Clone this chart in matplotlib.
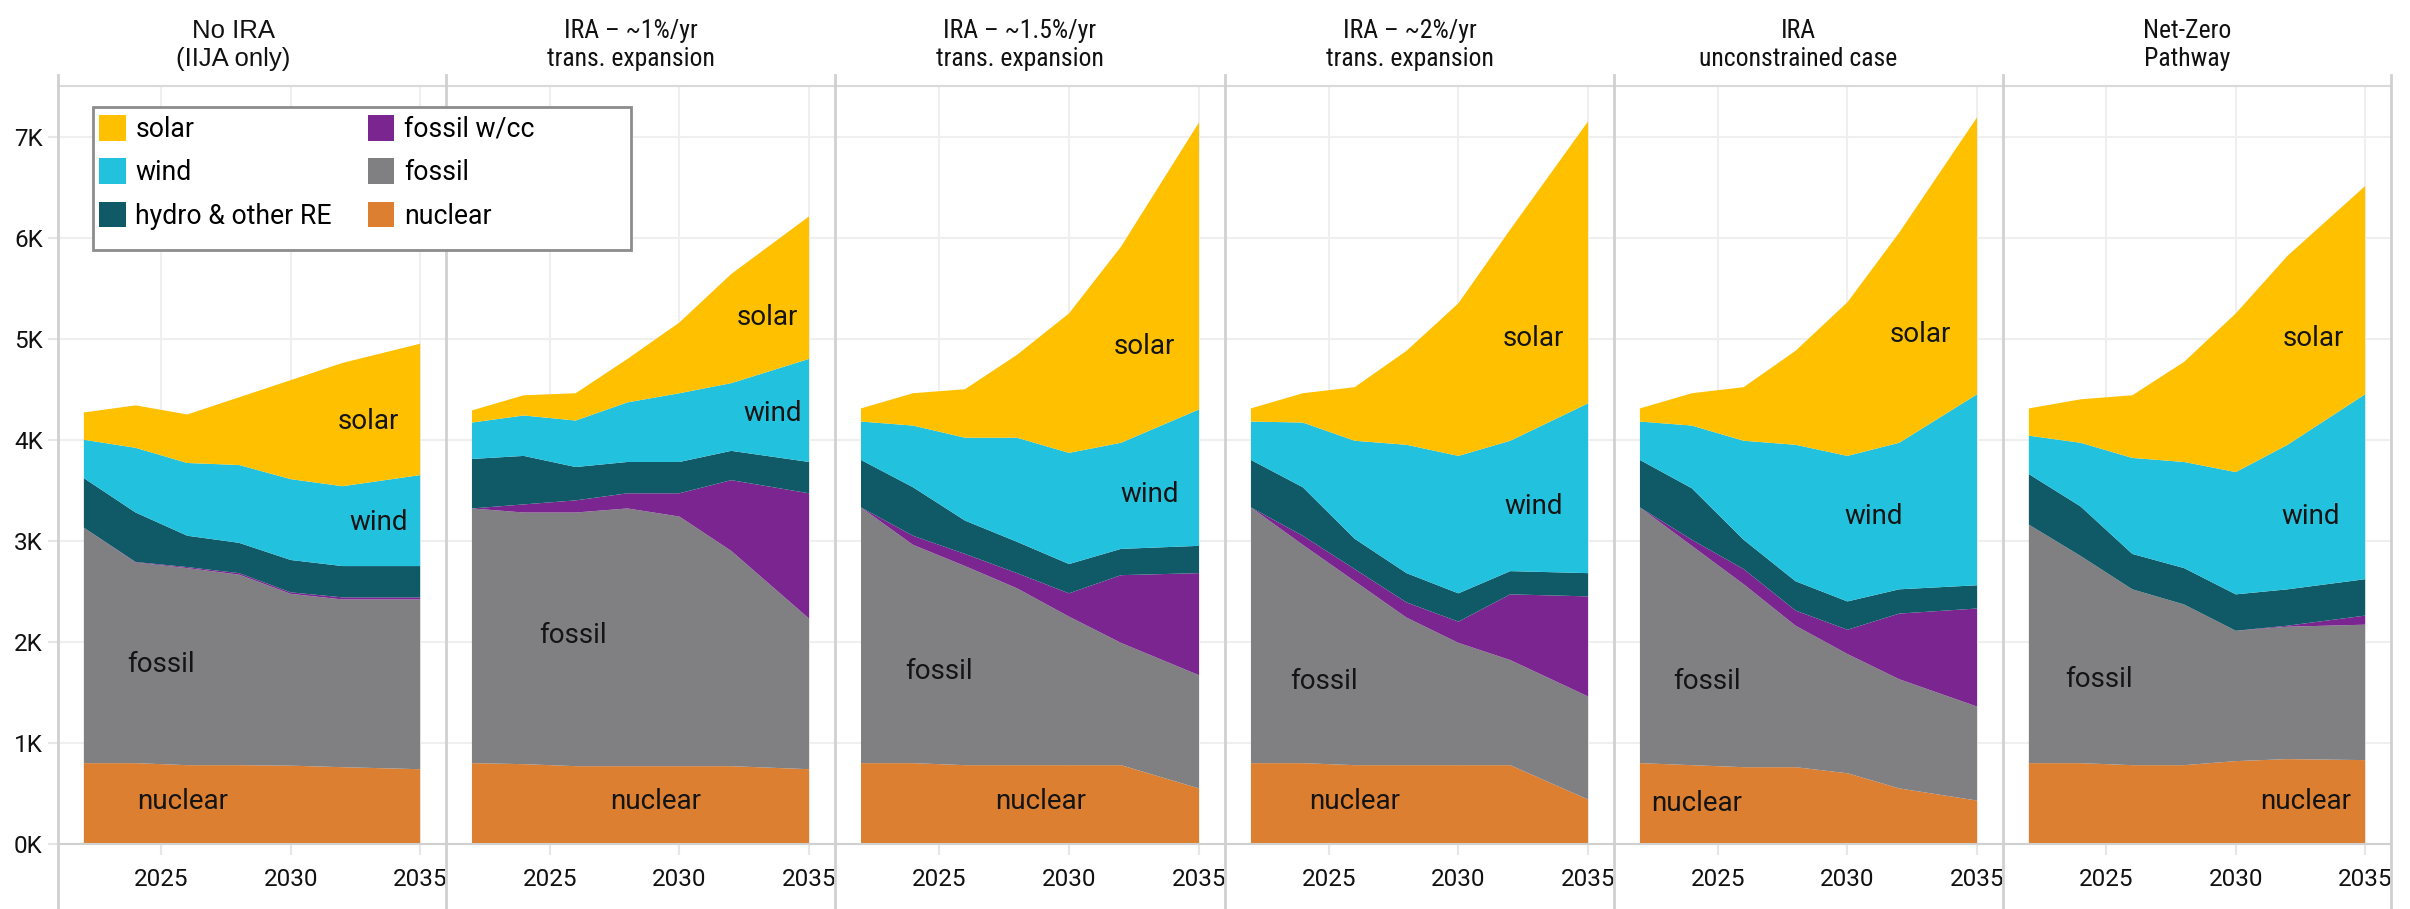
import numpy as np
import matplotlib
matplotlib.use("Agg")
import matplotlib.pyplot as plt
from matplotlib import font_manager
from matplotlib.patches import Patch, Rectangle
from matplotlib.lines import Line2D

plt.rcParams['font.family'] = ['Roboto', 'DejaVu Sans']

years = [2022, 2024, 2026, 2028, 2030, 2032, 2035]

titles = ["No IRA\n(IIJA only)",
          "IRA \u2013 ~1%/yr\ntrans. expansion",
          "IRA \u2013 ~1.5%/yr\ntrans. expansion",
          "IRA \u2013 ~2%/yr\ntrans. expansion",
          "IRA\nunconstrained case",
          "Net-Zero\nPathway"]

# generation by source for each scenario
nuclear = [[800, 800, 780, 780, 775, 760, 740],
           [800, 790, 770, 770, 770, 770, 740],
           [800, 800, 780, 780, 780, 780, 550],
           [800, 800, 780, 780, 780, 780, 440],
           [800, 780, 760, 760, 700, 550, 430],
           [800, 800, 780, 780, 820, 840, 830]]
fossil = [[2330, 1985, 1950, 1885, 1700, 1660, 1680],
          [2520, 2490, 2510, 2550, 2470, 2130, 1490],
          [2530, 2160, 1970, 1750, 1470, 1210, 1120],
          [2530, 2160, 1820, 1460, 1210, 1040, 1020],
          [2530, 2170, 1810, 1400, 1180, 1080, 930],
          [2360, 2050, 1740, 1590, 1290, 1310, 1340]]
fossil_cc = [[0, 5, 10, 15, 15, 20, 20],
             [0, 80, 120, 150, 230, 700, 1240],
             [0, 90, 120, 150, 230, 670, 1010],
             [0, 90, 120, 150, 210, 650, 990],
             [0, 60, 150, 150, 240, 650, 970],
             [0, 0, 0, 0, 0, 10, 90]]
hydro = [[490, 490, 310, 300, 320, 310, 310],
         [490, 480, 330, 310, 310, 290, 310],
         [470, 480, 330, 310, 290, 260, 270],
         [470, 480, 300, 290, 280, 230, 230],
         [470, 510, 290, 290, 280, 240, 230],
         [500, 490, 350, 360, 360, 360, 360]]
wind = [[380, 640, 720, 770, 800, 790, 900],
        [360, 400, 460, 590, 680, 670, 1020],
        [380, 610, 820, 1030, 1100, 1050, 1350],
        [380, 640, 970, 1270, 1360, 1290, 1680],
        [380, 620, 980, 1350, 1440, 1450, 1890],
        [380, 630, 950, 1050, 1210, 1430, 1830]]
solar = [[270, 420, 480, 670, 980, 1220, 1300],
         [120, 200, 270, 430, 700, 1080, 1410],
         [130, 320, 480, 820, 1380, 1940, 2840],
         [130, 290, 530, 930, 1510, 2090, 2790],
         [130, 320, 530, 930, 1520, 2080, 2740],
         [270, 430, 620, 990, 1570, 1870, 2060]]

# in-chart label positions (year, value) per panel: solar, wind, fossil, nuclear
label_pos = [[(2033.0, 4180), (2033.4, 3180), (2025.0, 1780), (2025.8, 420)],
             [(2033.4, 5210), (2033.6, 4260), (2025.9, 2060), (2029.1, 420)],
             [(2032.9, 4920), (2033.1, 3460), (2025.0, 1710), (2028.9, 420)],
             [(2032.9, 5000), (2032.9, 3340), (2024.8, 1610), (2026.0, 420)],
             [(2032.8, 5040), (2031.0, 3240), (2024.6, 1610), (2024.2, 400)],
             [(2033.0, 5000), (2032.9, 3240), (2024.7, 1630), (2032.7, 420)]]
label_names = ["solar", "wind", "fossil", "nuclear"]

colors = {"solar": "#FFC000", "wind": "#22C1DE", "hydro & other RE": "#105A67",
          "fossil w/cc": "#7A2590", "fossil": "#808083", "nuclear": "#DC7F31"}

# narrow face for the scenario titles, if one is installed
installed = {(f.name, f.stretch) for f in font_manager.fontManager.ttflist}
narrow = dict(family=["Liberation Sans"])
for name in ["Liberation Sans Narrow", "Arial Narrow", "Roboto Condensed",
             "Open Sans Condensed"]:
    if any(n == name for n, _ in installed):
        narrow = dict(family=[name, "Liberation Sans"])
        break
else:
    if ("DejaVu Sans", "condensed") in installed or ("DejaVu Sans", "semi-condensed") in installed:
        narrow = dict(family=["DejaVu Sans"], stretch="condensed")

W, H = 2410, 909
fig = plt.figure(figsize=(W / 100, H / 100), dpi=100)

edges = [58, 446, 835, 1225, 1614, 2003, 2391]
top_px, zero_px = 86, 844
title_shift = [-19, -10, -10, -10, -10, -10]

for i in range(6):
    L, R = edges[i], edges[i + 1]
    ax = fig.add_axes([L / W, 1 - zero_px / H, (R - L) / W, (zero_px - top_px) / H])
    ax.stackplot(years, nuclear[i], fossil[i], fossil_cc[i], hydro[i], wind[i], solar[i],
                 colors=[colors["nuclear"], colors["fossil"], colors["fossil w/cc"],
                         colors["hydro & other RE"], colors["wind"], colors["solar"]],
                 linewidth=0, antialiased=True)
    ax.set_xlim(2021, 2036)
    ax.set_ylim(0, 7500)
    ax.set_xticks([2025, 2030, 2035])
    ax.set_yticks(range(0, 8000, 1000))
    ax.grid(True, color="#efefef", lw=1.5)
    ax.set_axisbelow(True)
    for s in ["left", "right"]:
        ax.spines[s].set_visible(False)
    ax.spines["top"].set_color("#d9d9d9")
    ax.spines["top"].set_linewidth(1.5)
    ax.spines["bottom"].set_color("#d0d0d0")
    ax.spines["bottom"].set_linewidth(1.5)
    ax.tick_params(axis="x", length=8, width=1.5, color="#e6e6e6", pad=9,
                   labelsize=17.5, labelcolor="#111111")
    if i == 0:
        ax.set_yticklabels([f"{v // 1000}K" for v in range(0, 8000, 1000)])
        ax.tick_params(axis="y", length=7, width=1.5, color="#e6e6e6", pad=4,
                       labelsize=17.5, labelcolor="#111111")
    else:
        ax.tick_params(axis="y", length=0, labelleft=False)

    for name, (lx, ly) in zip(label_names, label_pos[i]):
        ax.text(lx, ly, name, ha="center", va="center", fontsize=20, color="#141414")

    tfont = dict(family=["Liberation Sans"]) if i == 0 else narrow
    cx = ((L + R) / 2 + title_shift[i]) / W
    fig.text(cx, 1 - 45 / H, titles[i], ha="center", va="center", fontsize=18.5,
             linespacing=1.2, color="#111111", **tfont)

for x in edges:
    fig.add_artist(Line2D([x / W, x / W], [0, 1 - 75 / H], color="#d0d0d0", lw=2, zorder=2))

# legend with a fixed-width frame
fig.add_artist(Rectangle((93 / W, 1 - 250 / H), (631 - 93) / W, (250 - 107) / H,
                         transform=fig.transFigure, facecolor="white",
                         edgecolor="#8c8c8c", lw=2, zorder=4))
order = ["solar", "wind", "hydro & other RE", "fossil w/cc", "fossil", "nuclear"]
handles = [Patch(facecolor=colors[k], edgecolor="none") for k in order]
fig.legend(handles, order, ncol=2, loc="upper left", bbox_to_anchor=(99 / W, 1 - 115 / H),
           frameon=False, fontsize=19.2, handlelength=1.0, handleheight=1.1,
           handletextpad=0.36, columnspacing=1.35, labelspacing=0.58,
           borderpad=0, borderaxespad=0).set_zorder(5)

fig.savefig("out.png", dpi=100)
